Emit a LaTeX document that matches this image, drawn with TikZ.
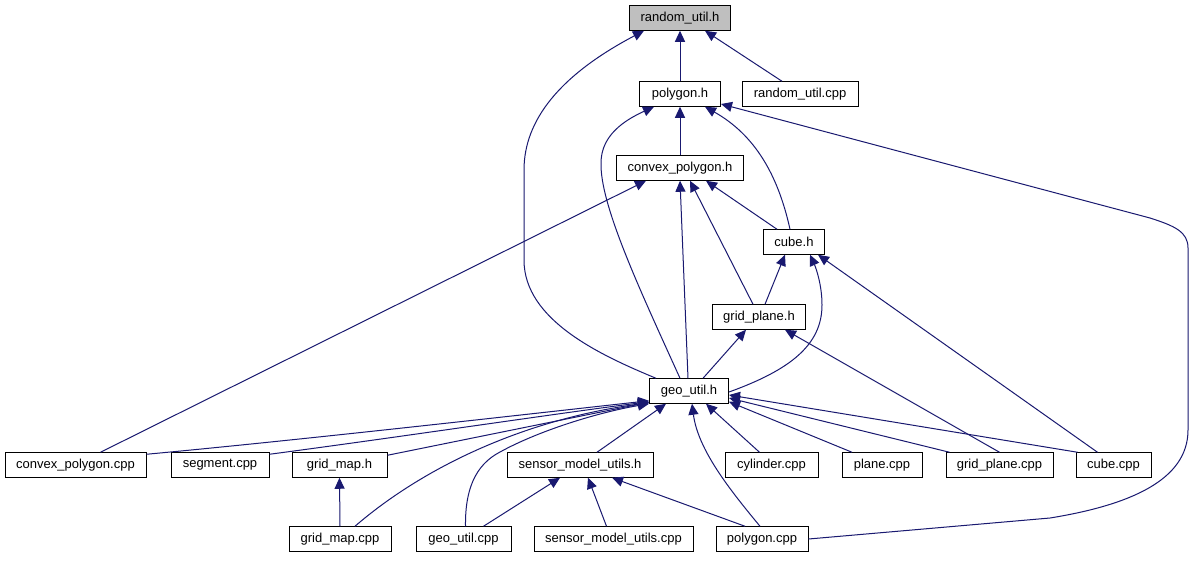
\documentclass[tikz,border=0pt]{standalone}
\usepackage{fontspec}
\setmainfont{Liberation Sans}
\usetikzlibrary{arrows.meta,calc}
\definecolor{edgeblue}{RGB}{25,25,112}
\definecolor{hlgray}{RGB}{191,191,191}
\begin{document}
\begin{tikzpicture}[x=1pt,y=-1pt,
  box/.style={draw=black,line width=1pt,fill=white,inner sep=0pt,minimum height=24.5pt,
    font=\fontsize{13}{15}\selectfont},
  dep/.style={draw=edgeblue,line width=1pt,-{Triangle[length=11pt,width=10pt]}}]
\useasboundingbox (0,0) rectangle (1196,560);
\fill[white] (0,0) rectangle (1196,560);
% nodes
\node[box,fill=hlgray,minimum width=101pt] (ru_h) at (680,18) {random\_util.h};
\node[box,minimum width=81pt] (poly_h) at (680,94) {polygon.h};
\node[box,minimum width=116pt] (ru_cpp) at (800,94) {random\_util.cpp};
\node[box,minimum width=127pt] (cp_h) at (680,168) {convex\_polygon.h};
\node[box,minimum width=61pt] (cube_h) at (794,242) {cube.h};
\node[box,minimum width=93pt] (gp_h) at (759,317) {grid\_plane.h};
\node[box,minimum width=79pt] (geo_h) at (689,391) {geo\_util.h};
\node[box,minimum width=141pt] (cp_cpp) at (75.5,465) {convex\_polygon.cpp};
\node[box,minimum width=98pt] (seg_cpp) at (220,465) {segment.cpp};
\node[box,minimum width=95pt] (gm_h) at (339.5,465) {grid\_map.h};
\node[box,minimum width=146pt] (smu_h) at (580,465) {sensor\_model\_utils.h};
\node[box,minimum width=93pt] (cyl_cpp) at (771.5,465) {cylinder.cpp};
\node[box,minimum width=80pt] (plane_cpp) at (882,465) {plane.cpp};
\node[box,minimum width=107pt] (gp_cpp) at (999.5,465) {grid\_plane.cpp};
\node[box,minimum width=75pt] (cube_cpp) at (1113.5,465) {cube.cpp};
\node[box,minimum width=102pt] (gm_cpp) at (340,539) {grid\_map.cpp};
\node[box,minimum width=95pt] (geo_cpp) at (463.5,539) {geo\_util.cpp};
\node[box,minimum width=159pt] (smu_cpp) at (613.5,539) {sensor\_model\_utils.cpp};
\node[box,minimum width=92pt] (poly_cpp) at (762,539) {polygon.cpp};
% edges (child -> parent)
\draw[dep] (poly_h.north) -- (ru_h.south);
\draw[dep] ($(ru_cpp.north)+(-18,0)$) -- ($(ru_h.south)+(25,0)$);
\draw[dep] ($(geo_h.north west)+(7,0)$) .. controls (600,355) and (524,320) .. (524,260)
   -- (524,170) .. controls (524,120) and (560,75) .. ($(ru_h.south)+(-36,0)$);
\draw[dep] (cp_h.north) -- (poly_h.south);
\draw[dep] ($(cube_h.north)+(-4,0)$) .. controls (778,175) and (755,135) .. ($(poly_h.south east)+(-16,0)$);
\draw[dep] ($(geo_h.north)+(-9,0)$) .. controls (640,290) and (600,205) .. (601,163)
   .. controls (601,135) and (625,120) .. ($(poly_h.south west)+(15,0)$);
\draw[dep] (poly_cpp.east) -- (1050,518) .. controls (1130,505) and (1188,480) .. (1188,430)
   -- (1188,248) .. controls (1188,232) and (1175,226) .. (1150,218) -- ($(poly_h.east)+(0,10)$);
\draw[dep] ($(cp_cpp.north)+(25,0)$) -- ($(cp_h.south west)+(30,0)$);
\draw[dep] ($(geo_h.north)+(-1,0)$) -- (cp_h.south);
\draw[dep] ($(gp_h.north)+(-6,0)$) -- ($(cp_h.south)+(10,0)$);
\draw[dep] ($(cube_h.north)+(-17,0)$) -- ($(cp_h.south)+(26,0)$);
\draw[dep] ($(gp_h.north)+(6,0)$) -- ($(cube_h.south)+(-9,0)$);
\draw[dep] ($(geo_h.east)+(0,1)$) .. controls (790,370) and (822,345) .. (822,305)
   .. controls (822,285) and (816,268) .. ($(cube_h.south)+(16,0)$);
\draw[dep] ($(cube_cpp.north)+(-16,0)$) -- ($(cube_h.south east)+(-7,0)$);
\draw[dep] ($(geo_h.north)+(14,0)$) -- ($(gp_h.south)+(-13,0)$);
\draw[dep] (gp_cpp.north) -- ($(gp_h.south)+(26,0)$);
\draw[dep] ($(cp_cpp.north east)+(0,2)$) .. controls (300,440) and (520,415) .. ($(geo_h.south west)+(0,-3)$);
\draw[dep] ($(seg_cpp.north east)+(0,2)$) .. controls (400,437) and (560,413) .. ($(geo_h.south west)+(0,-2)$);
\draw[dep] ($(gm_h.north east)+(0,3)$) -- ($(geo_h.south west)+(0,-1.5)$);
\draw[dep] ($(gm_cpp.north)+(15,0)$) .. controls (420,470) and (520,420) .. ($(geo_h.south west)+(0,-1)$);
\draw[dep] ($(geo_cpp.north)+(2,0)$) .. controls (465,490) and (475,465) .. (500,452)
   .. controls (540,430) and (600,412) .. ($(geo_h.south west)+(0,0)$);
\draw[dep] ($(smu_h.north)+(17,0)$) -- ($(geo_h.south west)+(17,0)$);
\draw[dep] ($(poly_cpp.north)+(-2,0)$) .. controls (730,490) and (698,450) .. ($(geo_h.south)+(3,0)$);
\draw[dep] ($(cyl_cpp.north)+(-12,0)$) -- ($(geo_h.south)+(17,0)$);
\draw[dep] ($(plane_cpp.north)+(-30,0)$) -- ($(geo_h.south east)+(0,-2)$);
\draw[dep] ($(gp_cpp.north west)+(4,0)$) -- ($(geo_h.east)+(0,7)$);
\draw[dep] ($(cube_cpp.north west)+(2,0)$) -- ($(geo_h.east)+(0,4)$);
\draw[dep] (gm_cpp.north) -- (gm_h.south);
\draw[dep] ($(geo_cpp.north)+(20,0)$) -- ($(smu_h.south)+(-20,0)$);
\draw[dep] ($(smu_cpp.north)+(-7,0)$) -- ($(smu_h.south)+(8,0)$);
\draw[dep] ($(poly_cpp.north)+(-17,0)$) -- ($(smu_h.south)+(32,0)$);
\end{tikzpicture}
\end{document}
